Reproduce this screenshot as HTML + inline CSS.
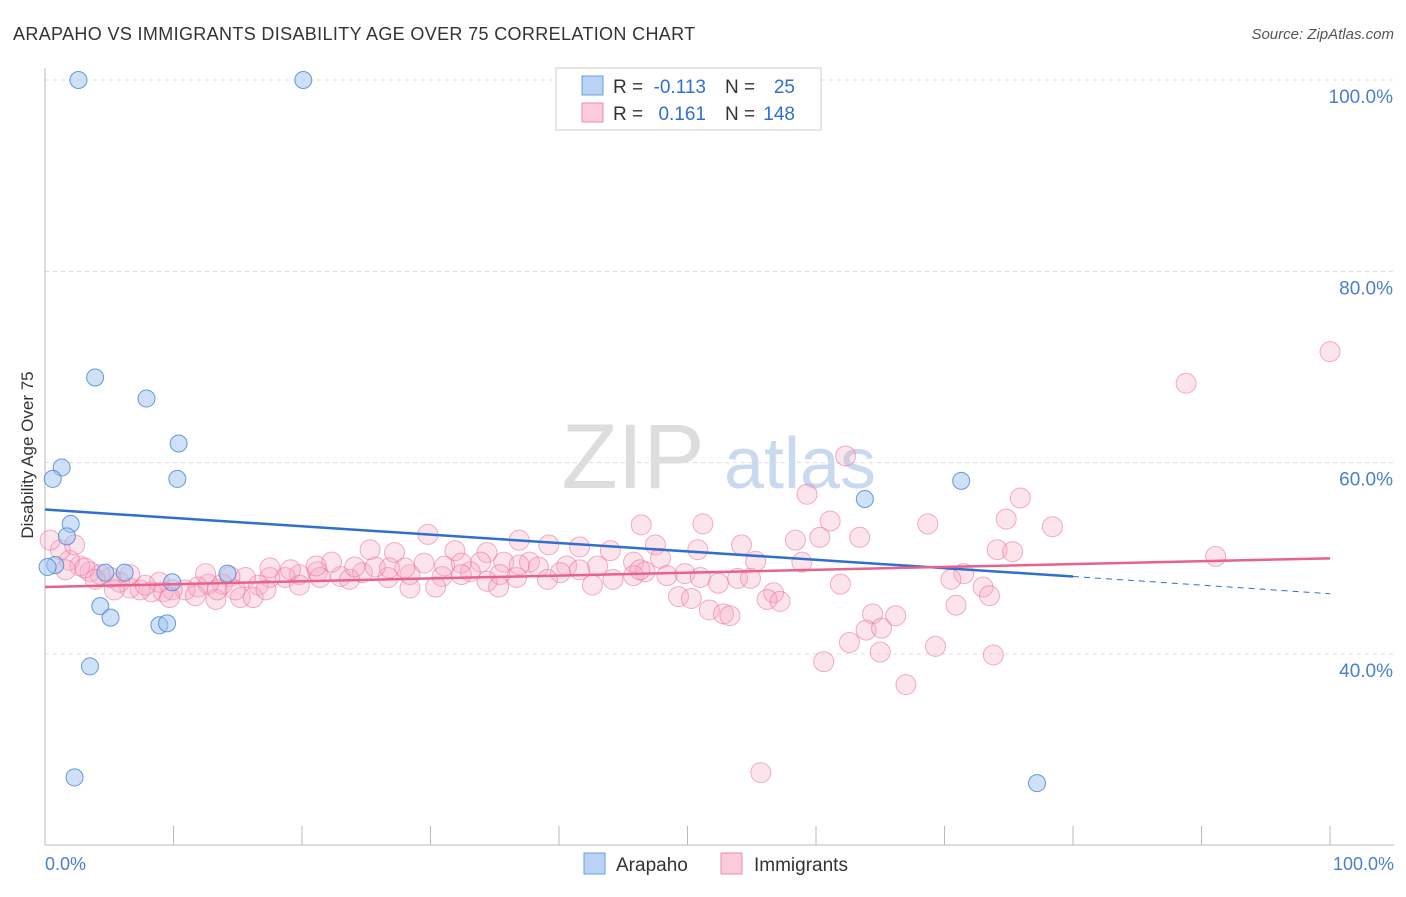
<!DOCTYPE html>
<html><head><meta charset="utf-8"><style>
body{margin:0;background:#fff;font-family:"Liberation Sans",sans-serif}
svg text{font-family:"Liberation Sans",sans-serif}
</style></head><body>
<svg width="1406" height="892">
<text x="13" y="40" font-size="18" fill="#333" letter-spacing="0.35">ARAPAHO VS IMMIGRANTS DISABILITY AGE OVER 75 CORRELATION CHART</text>
<text x="1394" y="39" font-size="15" fill="#555" font-style="italic" text-anchor="end">Source: ZipAtlas.com</text>
<text x="633" y="488" font-size="92" fill="#ddd" font-family="Liberation Serif" text-anchor="middle">ZIP</text>
<text x="800" y="488" font-size="72" fill="#c9daf0" text-anchor="middle">atlas</text>
<g id="grid"></g>
<line x1="45" y1="68" x2="45" y2="845" stroke="#bbb"/>
<line x1="45" y1="845" x2="1394" y2="845" stroke="#bbb"/>
<g id="ticks"></g>
<text x="33" y="455" font-size="17" fill="#333" transform="rotate(-90 33 455)" text-anchor="middle">Disability Age Over 75</text>
<text x="45" y="870" font-size="18" fill="#4a7fd0">0.0%</text>
<text x="1394" y="870" font-size="18" fill="#4a7fd0" text-anchor="end">100.0%</text>
<g id="pink"></g><g id="blue"></g><g id="trends"></g>
<g>
<rect x="556" y="68" width="265" height="62" fill="#fff" stroke="#ccc"/>
<rect x="582" y="76" width="21" height="19" fill="#b9d3f5" stroke="#6b9ce0"/>
<rect x="582" y="103" width="21" height="19" fill="#fbcbd9" stroke="#ea8fae"/>
<text x="613" y="93" font-size="19" fill="#333">R =</text>
<text x="706" y="93" font-size="19" fill="#2f6fd0" text-anchor="end">-0.113</text>
<text x="725" y="93" font-size="19" fill="#333">N =</text>
<text x="795" y="93" font-size="19" fill="#2f6fd0" text-anchor="end">25</text>
<text x="613" y="120" font-size="19" fill="#333">R =</text>
<text x="706" y="120" font-size="19" fill="#2f6fd0" text-anchor="end">0.161</text>
<text x="725" y="120" font-size="19" fill="#333">N =</text>
<text x="795" y="120" font-size="19" fill="#2f6fd0" text-anchor="end">148</text>
</g>
<g>
<rect x="584" y="853" width="21" height="21" fill="#b9d3f5" stroke="#6b9ce0"/>
<text x="616" y="871" font-size="19" fill="#333">Arapaho</text>
<rect x="721" y="853" width="21" height="21" fill="#fbcbd9" stroke="#ea8fae"/>
<text x="754" y="871" font-size="19" fill="#333">Immigrants</text>
</g>
</svg>
<script>
const yTicks=[40,60,80,100];
const xTickVals=[0,10,20,30,40,50,60,70,80,90,100];
const blueX=[2.6,20.1,3.9,7.9,10.4,1.3,0.6,10.3,63.8,71.3,2.0,1.7,0.8,6.2,4.7,9.9,14.2,4.3,5.1,8.9,9.5,3.5,2.3,77.2,0.2];
const blueY=[100,100,68.9,66.7,62.0,59.5,58.3,58.3,56.2,58.1,53.6,52.3,49.3,48.5,48.5,47.5,48.4,45.0,43.8,43.0,43.2,38.7,27.1,26.5,49.1];
const pinkX=[100,88.8,62.3,59.3,75.9,61.1,74.8,68.7,78.4,46.4,51.2,29.8,36.9,58.4,60.3,63.4,91.1,74.1,75.3,54.2,47.5,39.2,41.6,44,50.8,55.3,58.9,71.5,70.5,73,73.5,70.9,53.9,54.9,52.4,56.7,56.2,57.2,61.9,49.3,50.3,51.7,52.8,53.3,64.4,66.2,63.9,65.1,62.6,65,69.3,73.8,60.6,67,55.7,
25.3,27.2,31.9,34.4,29.5,33.9,35.7,37.7,38.4,40.6,43,45.8,47.9,46.7,49.8,48.4,45.8,44.2,42.6,40.1,39.1,36.7,35.4,33.1,34.4,35.3,30.9,30.4,28.4,26.7,24.7,23,22.3,21.2,19.8,18.7,17.5,16.6,15.6,14.4,13.8,12.7,11.9,10.9,9.9,9.2,8.3,7.4,6.6,5.8,5.1,4.3,3.5,2.7,1.9,1.2,0.4,1.6,13.3,15.2,16.2,11.7,9.7,17.2,12.5,8.9,7.8,5.4,19.8,21.4,23.7,24.1,25.7,28,31.1,32.4,36.9,41.6,46.3,51,13.4,14.8,6.6,3.1,2.3,3.9,17.5,19.1,21.1,26.8,28.4,32.4];
const pinkY=[71.6,68.3,60.7,56.7,56.3,53.9,54.1,53.6,53.3,53.5,53.6,52.5,51.9,51.9,52.2,52.2,50.2,50.9,50.7,51.4,51.4,51.4,51.2,50.8,50.9,49.7,49.6,48.4,47.8,47,46.1,45.1,47.9,47.9,47.4,46.4,45.7,45.5,47.3,46,45.8,44.6,44.2,44,44.2,44,42.5,42.7,41.2,40.2,40.8,39.9,39.2,36.8,27.6,
50.9,50.6,50.8,50.6,49.5,49.6,49.6,49.6,49.1,49.2,49.2,49.6,50,48.6,48.4,48.2,48.2,47.8,47.2,48.5,47.8,48,48.3,48.6,47.6,47,48.1,47,48.3,48,48.5,48.1,49.6,48.6,48.3,48,48,47.2,48,48.1,47.3,47.3,47,46.7,46.7,46.5,46.5,46.7,46.9,47.5,48,48.3,48.6,49.2,49.8,50.9,51.9,48.8,45.7,45.9,45.9,46.1,45.9,46.7,48.4,47.5,47.2,46.7,47.2,48,47.8,49.1,49.1,49,49.2,49.5,49.3,48.8,48.8,48,46.7,46.7,48.3,49,51.4,47.8,49,48.8,49.2,49,46.9,48.3];
const blueTrend=[55.1,48.1,46.3]; // at x=0, 80, 100
const pinkTrend=[47.0,50.0];
const NS='http://www.w3.org/2000/svg';
const sx=v=>45+v*12.85, sy=v=>654-(v-40)*9.567;
function mk(t,a,p){const e=document.createElementNS(NS,t);for(const k in a)e.setAttribute(k,a[k]);p.appendChild(e);return e;}
const grid=document.getElementById('grid');
yTicks.forEach(v=>{
 const l=mk('line',{x1:45,x2:1394,y1:sy(v),y2:sy(v),stroke:'#ddd','stroke-dasharray':'4,4'},grid);
 
 
 const t=mk('text',{x:1393,y:sy(v)+23,'font-size':19,fill:'#4a7fd0','text-anchor':'end'},grid);
 t.textContent=v.toFixed(1)+'%';
 
 
});
const tk=document.getElementById('ticks');
xTickVals.forEach(v=>{
 const l=mk('line',{x1:sx(v),x2:sx(v),y1:826,y2:845,stroke:'#bbb'},tk);
 
 
});
const pg=document.getElementById('pink');
pinkX.forEach((x,i)=>{
 const c=mk('circle',{cx:sx(x),cy:sy(pinkY[i]),r:10,fill:'rgba(246,165,195,0.3)',stroke:'rgba(234,110,150,0.55)','stroke-width':1},pg);
 
 
});
const bg=document.getElementById('blue');
blueX.forEach((x,i)=>{
 const c=mk('circle',{cx:sx(x),cy:sy(blueY[i]),r:8.5,fill:'rgba(160,195,240,0.5)',stroke:'rgba(70,130,210,0.8)','stroke-width':1},bg);
 
 
});
const tg=document.getElementById('trends');
const b1=mk('line',{x1:sx(0),y1:sy(blueTrend[0]),x2:sx(80),y2:sy(blueTrend[1]),stroke:'#2f6fd0','stroke-width':2.5},tg);


const b2=mk('line',{x1:sx(80),y1:sy(blueTrend[1]),x2:sx(100),y2:sy(blueTrend[2]),stroke:'#2f6fd0','stroke-width':1,'stroke-dasharray':'6,5'},tg);


const p1=mk('line',{x1:sx(0),y1:sy(pinkTrend[0]),x2:sx(100),y2:sy(pinkTrend[1]),stroke:'#e8628e','stroke-width':2.5},tg);


</script>
</body></html>
